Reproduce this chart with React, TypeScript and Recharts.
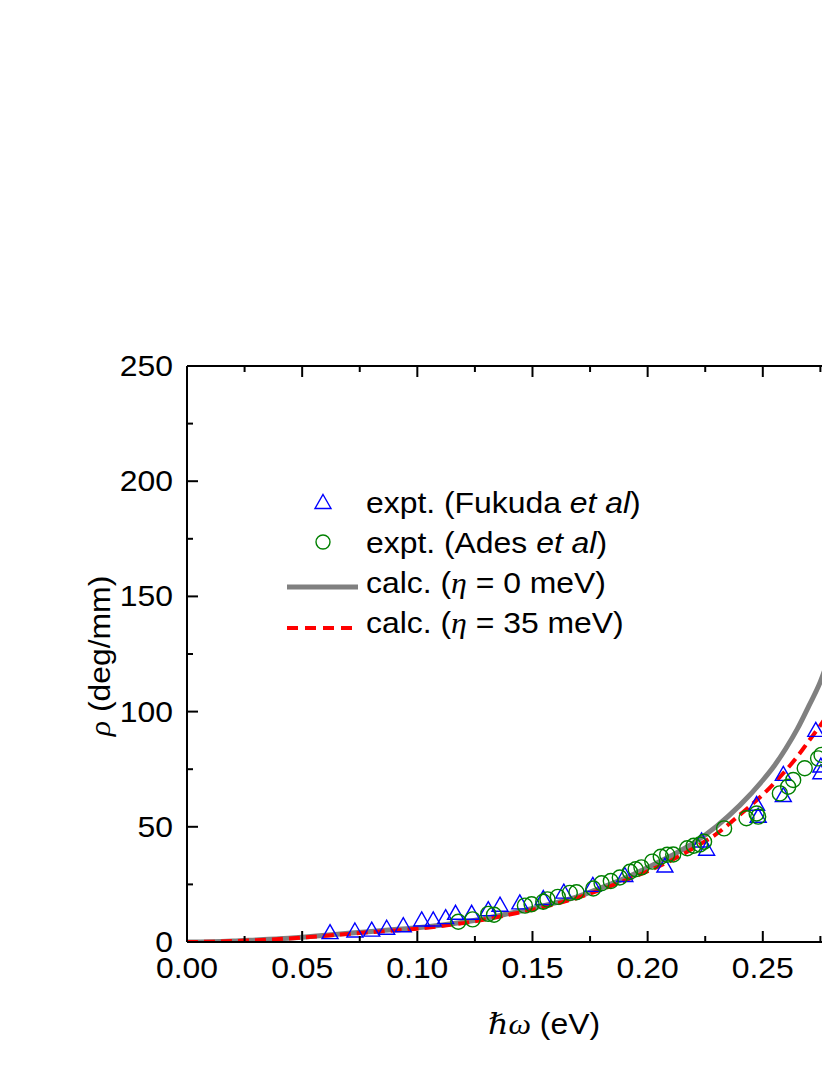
import React from 'react';
import { ComposedChart, Line, Scatter, XAxis, YAxis, Legend } from 'recharts';

// ---- axis ticks ----
const xMajorTicks = [0, 0.05, 0.1, 0.15, 0.2, 0.25];
const xMinorTicks = [0.025, 0.075, 0.125, 0.175, 0.225, 0.275];
const xTickLabels = ['0.00', '0.05', '0.10', '0.15', '0.20', '0.25'];
const yMajorTicks = [0, 50, 100, 150, 200, 250];
const yMinorTicks = [25, 75, 125, 175, 225];
const yTickLabels = ['0', '50', '100', '150', '200', '250'];

// ---- calculated curves (hbar*omega in eV, rho in deg/mm) ----
const calcX = [0, 0.01, 0.02, 0.03, 0.04, 0.05, 0.06, 0.07, 0.08, 0.09, 0.1, 0.11, 0.12, 0.13, 0.14, 0.15, 0.16, 0.17, 0.18, 0.19, 0.2, 0.21, 0.22, 0.23, 0.24, 0.25, 0.255, 0.26, 0.265, 0.27, 0.275, 0.28, 0.285];
const calcEta0 = [0, 0.1, 0.4, 0.9, 1.4, 2.1, 2.9, 3.8, 4.6, 5.4, 6.2, 7.3, 8.6, 10.3, 12.4, 14.6, 17.0, 19.8, 23.6, 27.6, 32.3, 37.3, 43.0, 50.3, 59.3, 70.2, 76.5, 84.0, 92.5, 102.5, 113.0, 127.5, 145.0];
const calcEta35 = [0, 0.1, 0.4, 0.8, 1.3, 1.9, 2.7, 3.5, 4.3, 5.0, 5.8, 6.9, 8.2, 9.9, 11.9, 14.0, 16.5, 19.3, 22.8, 26.6, 30.7, 35.3, 40.8, 47.0, 55.2, 64.0, 69.0, 74.5, 80.5, 87.3, 94.0, 101.5, 110.0];

// ---- experiments ----
const fukudaX = [0.0621, 0.0729, 0.0802, 0.0867, 0.0939, 0.1019, 0.1069, 0.1123, 0.1166, 0.1236, 0.1308, 0.1359, 0.1445, 0.1547, 0.1636, 0.1762, 0.1901, 0.2075, 0.2234, 0.2256, 0.2473, 0.248, 0.2589, 0.2589, 0.273, 0.2752, 0.2752];
const fukudaY = [4.5, 5.2, 5.6, 6.4, 7.5, 10.0, 10.0, 11.0, 12.9, 12.9, 14.5, 16.4, 17.4, 19.3, 22.1, 25.0, 29.3, 33.4, 44.3, 40.7, 60.2, 55.0, 73.2, 64.0, 92.3, 76.8, 73.9];

const adesX = [0.1178, 0.124, 0.1308, 0.1333, 0.1467, 0.1496, 0.1547, 0.1565, 0.161, 0.1662, 0.1691, 0.1764, 0.18, 0.184, 0.1879, 0.1923, 0.1948, 0.1973, 0.202, 0.2057, 0.2085, 0.2111, 0.2172, 0.22, 0.2227, 0.2245, 0.2332, 0.2429, 0.2473, 0.248, 0.2574, 0.261, 0.2632, 0.2682, 0.274, 0.2755, 0.2805];
const adesY = [8.8, 9.8, 12.2, 11.8, 15.8, 16.4, 17.5, 18.5, 19.6, 21.3, 21.6, 23.2, 25.5, 26.5, 28.0, 30.5, 31.6, 32.4, 34.9, 37.0, 37.9, 38.0, 40.7, 41.8, 42.3, 43.5, 49.3, 53.7, 55.8, 54.4, 64.5, 67.4, 70.3, 75.4, 79.7, 81.2, 87.0];

// ---- legend labels ----
const legendLabels = [
  ['expt. (Fukuda ', 'et al', ')'],
  ['expt. (Ades ', 'et al', ')'],
  ['calc. (', '\u03B7', ' = 0 meV)'],
  ['calc. (', '\u03B7', ' = 35 meV)'],
];

const eta0Data = calcX.map((x, i) => ({ x, y: calcEta0[i] }));
const eta35Data = calcX.map((x, i) => ({ x, y: calcEta35[i] }));
const fukudaData = fukudaX.map((x, i) => ({ x, y: fukudaY[i] }));
const adesData = adesX.map((x, i) => ({ x, y: adesY[i] }));

const xAllTicks = [...xMajorTicks, ...xMinorTicks].sort((a, b) => a - b);
const yAllTicks = [...yMajorTicks, ...yMinorTicks].sort((a, b) => a - b);

const SANS = '"Liberation Sans", Arial, Helvetica, sans-serif';
const SERIF = '"Liberation Serif", "DejaVu Serif", "Times New Roman", serif';
const FS = 29;
const SX = 1.1;
const MAJOR = 11;
const MINOR = 6;
const BLUE = '#0000ff';
const GREEN = '#008000';
const GRAY = '#808080';
const RED = '#ff0000';

const findIdx = (arr: number[], v: number) => arr.findIndex((t) => Math.abs(t - v) < 1e-9);

function BottomTick(props: any) {
  const { x, y, payload } = props;
  const i = findIdx(xMajorTicks, payload.value);
  const major = i >= 0;
  return (
    <g>
      <line x1={x} x2={x} y1={y} y2={y - (major ? MAJOR : MINOR)} stroke="#000" strokeWidth={2} />
      {major && (
        <text transform={`translate(${x},${y + 36}) scale(${SX},1)`} textAnchor="middle" fontFamily={SANS} fontSize={FS} fill="#000">
          {xTickLabels[i]}
        </text>
      )}
    </g>
  );
}

function TopTick(props: any) {
  const { x, y, payload } = props;
  const major = findIdx(xMajorTicks, payload.value) >= 0;
  return <line x1={x} x2={x} y1={y} y2={y + (major ? MAJOR : MINOR)} stroke="#000" strokeWidth={2} />;
}

function LeftTick(props: any) {
  const { x, y, payload } = props;
  const i = findIdx(yMajorTicks, payload.value);
  const major = i >= 0;
  return (
    <g>
      <line x1={x} x2={x + (major ? MAJOR : MINOR)} y1={y} y2={y} stroke="#000" strokeWidth={2} />
      {major && (
        <text transform={`translate(${x - 14},${y + 10}) scale(${SX},1)`} textAnchor="end" fontFamily={SANS} fontSize={FS} fill="#000">
          {yTickLabels[i]}
        </text>
      )}
    </g>
  );
}

const XTitle = (props: any) => {
  const vb = props.viewBox || {};
  const cx = vb.x + vb.width / 2;
  const by = vb.y + 92;
  return (
    <text transform={`translate(${cx},${by}) scale(${SX},1)`} textAnchor="middle" fontSize={FS} fill="#000" fontFamily={SANS}>
      <tspan fontFamily={SERIF} fontStyle="italic">{'\u210F\u03C9'}</tspan>
      <tspan fontFamily={SANS}>{' (eV)'}</tspan>
    </text>
  );
};

const YTitle = (props: any) => {
  const vb = props.viewBox || {};
  const bx = vb.x + vb.width - 77;
  const cy = vb.y + vb.height / 2 + 2;
  return (
    <text transform={`translate(${bx},${cy}) rotate(-90) scale(${SX},1)`} textAnchor="middle" fontSize={FS} fill="#000" fontFamily={SANS}>
      <tspan fontFamily={SERIF} fontStyle="italic">{'\u03C1'}</tspan>
      <tspan fontFamily={SANS}>{' (deg/mm)'}</tspan>
    </text>
  );
};

const TriangleShape = (props: any) => {
  const { cx, cy } = props;
  if (cx == null || cy == null) return null;
  const w = 16;
  const h = 14;
  const d = `M${cx},${cy - h / 2} L${cx + w / 2},${cy + h / 2} L${cx - w / 2},${cy + h / 2} Z`;
  return <path d={d} fill="none" stroke={BLUE} strokeWidth={1.4} />;
};

const CircleShape = (props: any) => {
  const { cx, cy } = props;
  if (cx == null || cy == null) return null;
  return <circle cx={cx} cy={cy} r={7.5} fill="none" stroke={GREEN} strokeWidth={1.4} />;
};

const LegendText = ({ y, parts, italicSerif }: { y: number; parts: string[]; italicSerif: boolean }) => (
  <text transform={`translate(86,${y}) scale(${SX},1)`} fontFamily={SANS} fontSize={FS} fill="#000">
    <tspan>{parts[0]}</tspan>
    <tspan fontStyle="italic" fontFamily={italicSerif ? SERIF : SANS}>{parts[1]}</tspan>
    <tspan fontStyle="normal" fontFamily={SANS}>{parts[2]}</tspan>
  </text>
);

const renderLegend = () => (
  <svg width={420} height={170} style={{ overflow: 'visible', display: 'block' }}>
    <path d="M43,14.5 L51,28.5 L35,28.5 Z" fill="none" stroke={BLUE} strokeWidth={1.4} />
    <LegendText y={33} parts={legendLabels[0]} italicSerif={false} />
    <circle cx={43} cy={62} r={7} fill="none" stroke={GREEN} strokeWidth={1.4} />
    <LegendText y={73} parts={legendLabels[1]} italicSerif={false} />
    <line x1={7} x2={78} y1={107} y2={107} stroke={GRAY} strokeWidth={5} />
    <LegendText y={113} parts={legendLabels[2]} italicSerif={true} />
    <line x1={7} x2={72} y1={148} y2={148} stroke={RED} strokeWidth={4} strokeDasharray="11 7" />
    <LegendText y={153} parts={legendLabels[3]} italicSerif={true} />
  </svg>
);

export default function App() {
  return (
    <div style={{ width: 822, height: 1050, overflow: 'hidden', position: 'relative', background: '#fff' }}>
      <ComposedChart width={930} height={1050} margin={{ top: 328, right: 37, bottom: 56, left: 119 }}>
        <XAxis
          type="number"
          dataKey="x"
          domain={[0, 0.31]}
          allowDataOverflow
          ticks={xAllTicks}
          interval={0}
          tick={BottomTick}
          tickLine={false}
          tickSize={0}
          tickMargin={0}
          height={60}
          axisLine={{ stroke: '#000', strokeWidth: 2 }}
          label={XTitle}
        />
        <XAxis
          xAxisId="top"
          orientation="top"
          type="number"
          dataKey="x"
          domain={[0, 0.31]}
          allowDataOverflow
          ticks={xAllTicks}
          interval={0}
          tick={TopTick}
          tickLine={false}
          tickSize={0}
          tickMargin={0}
          height={30}
          axisLine={{ stroke: '#000', strokeWidth: 2 }}
        />
        <YAxis
          type="number"
          dataKey="y"
          domain={[0, 250]}
          allowDataOverflow
          ticks={yAllTicks}
          interval={0}
          tick={LeftTick}
          tickLine={false}
          tickSize={0}
          tickMargin={0}
          width={60}
          axisLine={{ stroke: '#000', strokeWidth: 2 }}
          label={YTitle}
        />
        <Scatter name="expt. (Fukuda et al)" data={fukudaData} shape={TriangleShape} isAnimationActive={false} />
        <Scatter name="expt. (Ades et al)" data={adesData} shape={CircleShape} isAnimationActive={false} />
        <Line name="calc. (eta = 0 meV)" data={eta0Data} dataKey="y" type="monotone" stroke={GRAY} strokeWidth={5} dot={false} activeDot={false} isAnimationActive={false} />
        <Line name="calc. (eta = 35 meV)" data={eta35Data} dataKey="y" type="monotone" stroke={RED} strokeWidth={4} strokeDasharray="11 6" dot={false} activeDot={false} isAnimationActive={false} />
        <Legend
          content={renderLegend}
          layout="horizontal"
          verticalAlign="middle"
          align="center"
          wrapperStyle={{ left: 272, top: 472, width: 420, height: 170 }}
        />
      </ComposedChart>
    </div>
  );
}
